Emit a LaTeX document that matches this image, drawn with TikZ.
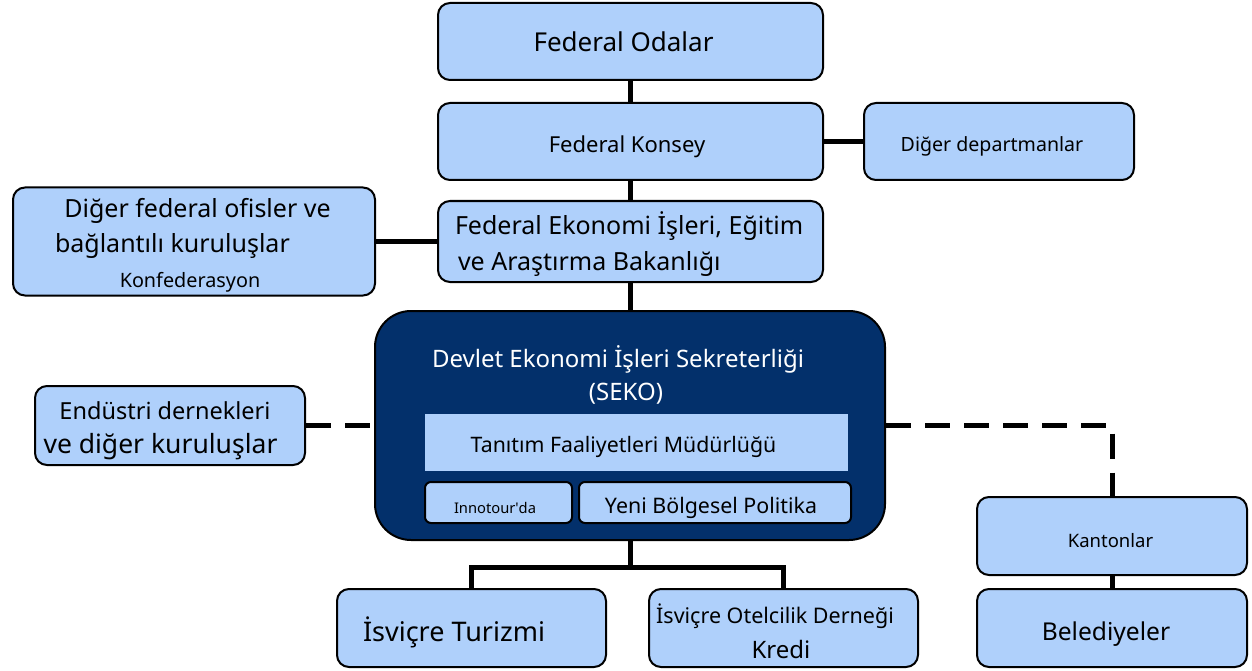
\documentclass[tikz,border=0pt]{standalone}
\usepackage{fontspec}
\setmainfont{Noto Sans}
\definecolor{boxblue}{RGB}{175,208,251}
\definecolor{navyblue}{RGB}{3,48,107}
\newcommand\setfs[1]{\fontsize{#1}{#1}\selectfont}
\begin{document}
\begin{tikzpicture}[x=1pt,y=-1pt,
  box/.style={draw=black, line width=2pt, fill=boxblue, rounded corners=12pt, inner sep=0pt},
  smallbox/.style={draw=black, line width=2pt, fill=boxblue, rounded corners=6pt, inner sep=0pt},
  plainbox/.style={fill=boxblue, inner sep=0pt},
  bigbox/.style={draw=black, line width=2pt, fill=navyblue, rounded corners=36pt, inner sep=0pt},
  txt/.style={inner sep=0pt, outer sep=0pt, text=black},
  wtxt/.style={inner sep=0pt, outer sep=0pt, text=white},
  conn/.style={draw=black, line width=5pt},
  dconn/.style={draw=black, line width=5pt, dash pattern=on 25pt off 14pt}
]
\useasboundingbox (0,0) rectangle (1252,671);

% boxes
\node[box, minimum width=385pt, minimum height=77pt] (FO) at (630.5,41.5) {};
\node[box, minimum width=385pt, minimum height=77pt] (FK) at (630.5,141.5) {};
\node[box, minimum width=270pt, minimum height=77pt] (DD) at (999,141.5) {};
\node[box, minimum width=385pt, minimum height=81pt] (EB) at (630.5,241.5) {};
\node[box, minimum width=362pt, minimum height=108pt] (DF) at (194,241.5) {};
\node[bigbox, minimum width=510pt, minimum height=229pt] (SEKO) at (630,425.5) {};
\node[plainbox, minimum width=423pt, minimum height=57pt] (TF) at (636.5,442.5) {};
\node[smallbox, minimum width=147pt, minimum height=41pt] (IN) at (498.5,502.5) {};
\node[smallbox, minimum width=272pt, minimum height=41pt] (YB) at (715,502.5) {};
\node[box, minimum width=270pt, minimum height=79pt] (ED) at (170,425.5) {};
\node[box, minimum width=270pt, minimum height=78pt] (KA) at (1112,536) {};
\node[box, minimum width=270pt, minimum height=78pt] (BE) at (1112,628) {};
\node[box, minimum width=269pt, minimum height=78pt] (IT) at (471.5,628) {};
\node[box, minimum width=269pt, minimum height=78pt] (IO) at (783.5,628) {};

% connectors
\draw[conn] (FO.south) -- (FK.north);
\draw[conn] (FK.south) -- (EB.north);
\draw[conn] (FK.east) -- (DD.west);
\draw[conn] (DF.east) -- (EB.west);
\draw[conn] (EB.south) -- (EB.south |- SEKO.north);
\draw[dconn] (ED.east) -- (ED.east -| SEKO.west);
\coordinate (corner) at (SEKO.east -| KA.north);
\draw[dconn] (SEKO.east) -- (corner) -- (KA.north);
\draw[conn] (KA.south) -- (BE.north);
\coordinate (fork) at (630,567);
\draw[conn] (SEKO.south) -- (fork);
\draw[conn, line join=miter] (IT.north) |- (fork) -| (IO.north);

% texts
\node[txt, anchor=base] (tFO) at (623.5,52) {\setfs{26}Federal Odalar};
\node[txt, anchor=base] (tFK) at (627,153) {\setfs{22}Federal Konsey};
\node[txt, anchor=base] (tDD) at (992,152) {\setfs{19.6}Diğer departmanlar};
\node[txt, anchor=base west] (tEB1) at (455,234) {\setfs{25}Federal Ekonomi İşleri, Eğitim};
\node[txt, anchor=base west] (tEB2) at (458,270) {\setfs{25}ve Araştırma Bakanlığı};
\node[txt, anchor=base] (tDF1) at (197.5,217) {\setfs{25}Diğer federal ofisler ve};
\node[txt, anchor=base west] (tDF2) at (55,252) {\setfs{25}bağlantılı kuruluşlar};
\node[txt, anchor=base] (tDF3) at (190,287) {\setfs{19.8}Konfederasyon};
\node[wtxt, anchor=base] (tSE1) at (618,367) {\setfs{24}Devlet Ekonomi İşleri Sekreterliği};
\node[wtxt, anchor=base] (tSE2) at (626,400) {\setfs{24}(SEKO)};
\node[txt, anchor=base] (tTF) at (623.5,452) {\setfs{21.3}Tanıtım Faaliyetleri Müdürlüğü};
\node[txt, anchor=base] (tIN) at (495,513) {\setfs{14.7}Innotour\textquotesingle da};
\node[txt, anchor=base] (tYB) at (711,513) {\setfs{21.4}Yeni Bölgesel Politika};
\node[txt, anchor=base] (tED1) at (165,419) {\setfs{23.5}Endüstri dernekleri};
\node[txt, anchor=base] (tED2) at (160.5,453) {\setfs{26.5}ve diğer kuruluşlar};
\node[txt, anchor=base west] (tIT) at (363,641) {\setfs{27}İsviçre Turizmi};
\node[txt, anchor=base] (tIO1) at (775,623) {\setfs{21.5}İsviçre Otelcilik Derneği};
\node[txt, anchor=base] (tIO2) at (781,658) {\setfs{24}Kredi};
\node[txt, anchor=base] (tKA) at (1110.5,547) {\setfs{18.5}Kantonlar};
\node[txt, anchor=base] (tBE) at (1106,640) {\setfs{24.6}Belediyeler};
\end{tikzpicture}
\end{document}
